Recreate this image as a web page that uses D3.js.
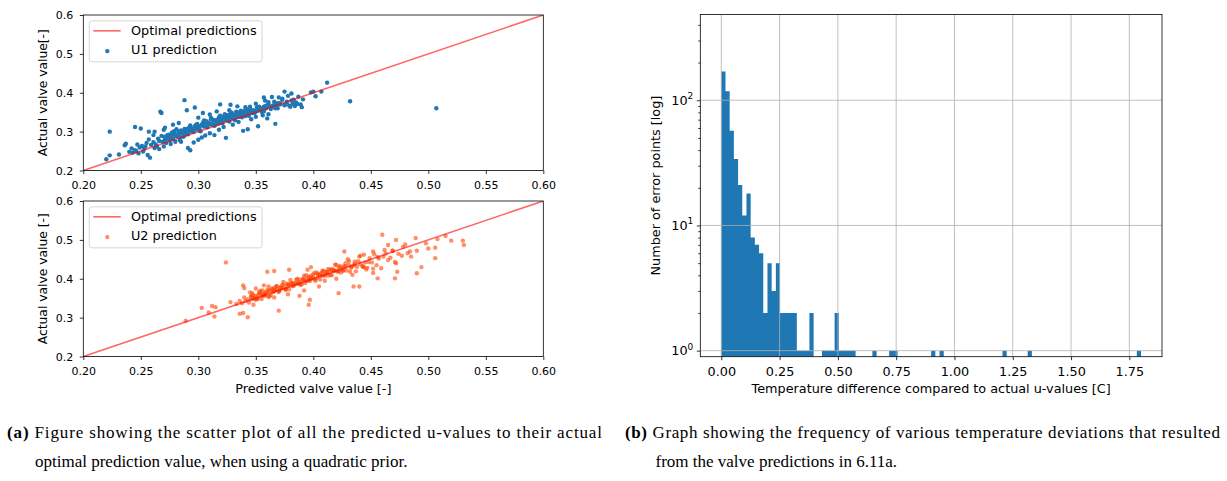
<!DOCTYPE html>
<html lang="en">
<head>
<meta charset="UTF-8">
<title>Valve predictions</title>
<style>
  body { margin: 0; background: #fff; }
  svg { display: block; }
  text { font-family: "DejaVu Sans", sans-serif; fill: #000; }
  .caption text { font-family: "Liberation Serif", "Times New Roman", serif; }
</style>
<script src="https://d3js.org/d3.v7.min.js"></script>
</head>
<body>
<script>
// ---- data ----
const xTicks = [0.20, 0.25, 0.30, 0.35, 0.40, 0.45, 0.50, 0.55, 0.60]
const yTicks = [0.2, 0.3, 0.4, 0.5, 0.6]
const optimalLine = [0.2, 0.6]

// U1: [predicted, actual]
const u1Points = [
  [.242,.257],[.245,.252],[.247,.267],[.249,.259],[.251,.263],[.253,.256],[.255,.271],[.257,.280],[.259,.266],[.261,.273],
  [.263,.267],[.265,.282],[.266,.276],[.268,.289],[.269,.274],[.271,.284],[.272,.271],[.273,.288],[.274,.292],[.275,.283],
  [.276,.287],[.277,.297],[.278,.281],[.279,.293],[.280,.290],[.281,.306],[.282,.288],[.283,.300],[.284,.285],[.285,.298],
  [.286,.300],[.287,.293],[.288,.307],[.289,.298],[.290,.301],[.291,.293],[.292,.308],[.293,.316],[.294,.301],[.295,.307],
  [.296,.300],[.297,.314],[.298,.308],[.299,.320],[.300,.305],[.301,.314],[.302,.301],[.303,.318],[.304,.322],[.305,.313],
  [.306,.317],[.307,.327],[.308,.311],[.309,.323],[.310,.320],[.311,.336],[.312,.318],[.313,.330],[.314,.315],[.315,.328],
  [.316,.330],[.317,.323],[.318,.337],[.319,.327],[.320,.330],[.321,.322],[.322,.337],[.323,.345],[.324,.330],[.325,.336],
  [.326,.329],[.327,.343],[.328,.337],[.329,.349],[.330,.334],[.331,.343],[.332,.329],[.333,.346],[.334,.350],[.335,.341],
  [.336,.345],[.337,.354],[.338,.338],[.339,.350],[.340,.347],[.341,.363],[.342,.344],[.343,.356],[.344,.341],[.345,.354],
  [.347,.355],[.349,.348],[.351,.363],[.353,.357],[.355,.359],[.357,.352],[.359,.367],[.361,.376],[.363,.361],[.365,.367],
  [.367,.360],[.369,.373],[.371,.370],[.373,.382],[.375,.369],[.377,.377],[.379,.367],[.381,.380],[.383,.382],[.385,.375],
  [.387,.390],
  [.271,.279],[.273,.290],[.275,.278],[.277,.290],[.279,.301],[.281,.288],[.283,.294],[.285,.303],[.287,.287],[.289,.304],
  [.291,.300],[.293,.313],[.295,.300],[.297,.309],[.299,.315],[.301,.303],[.303,.317],[.305,.329],[.307,.313],[.309,.320],
  [.311,.319],[.313,.330],[.315,.318],[.317,.330],[.319,.341],[.321,.327],[.323,.333],[.325,.342],[.327,.326],[.329,.343],
  [.331,.339],[.333,.351],[.335,.338],[.337,.346],[.339,.352],[.341,.340],[.343,.353],[.345,.364],[.347,.348],[.349,.354],
  [.351,.353],[.353,.363],[.355,.351],[.357,.364],[.359,.360],[.361,.372],[.363,.358],[.365,.367],[.367,.372],[.369,.360],
  [.371,.373],[.373,.385],[.375,.368],[.377,.375],
  [.271,.287],[.273,.282],[.276,.280],[.278,.298],[.281,.293],[.283,.290],[.286,.300],[.288,.290],[.291,.308],[.293,.304],
  [.296,.304],[.298,.317],[.301,.306],[.303,.316],[.306,.321],[.308,.318],[.311,.332],[.313,.319],[.316,.328],[.318,.321],
  [.321,.336],[.323,.331],[.326,.331],[.328,.346],[.331,.335],[.333,.338],[.336,.348],[.338,.337],[.341,.355],[.343,.350],
  [.346,.349],[.348,.354],[.351,.353],[.353,.364],[.356,.354],[.358,.364],[.361,.367],[.363,.364],[.366,.377],[.368,.364],
  [.240,.248],[.243,.246],[.246,.250],[.252,.249],[.254,.262],[.248,.244],[.262,.258],[.264,.262],[.266,.255],[.270,.262],
  [.276,.268],[.280,.274],[.284,.278],[.296,.272],[.300,.279],[.303,.285],[.306,.290],[.310,.296],[.318,.305],[.322,.312],
  [.330,.318],[.335,.325],[.346,.332],[.350,.338],[.356,.342],[.262,.300],[.270,.305],[.278,.318],[.283,.322],[.300,.336],
  [.310,.344],[.316,.352],[.334,.365],[.350,.372],[.358,.380],[.370,.388],[.378,.392],[.382,.372],[.384,.366],[.386,.371],
  [.380,.364],
  [.223,.300],[.220,.229],[.223,.239],[.231,.241],[.236,.265],[.237,.269],[.245,.312],[.250,.308],[.257,.300],[.261,.291],
  [.256,.240],[.258,.233],[.267,.351],[.268,.348],[.271,.310],[.288,.381],[.290,.355],[.297,.362],[.304,.348],[.291,.258],
  [.293,.252],[.285,.274],[.324,.284],[.314,.291],[.319,.370],[.328,.369],[.327,.355],[.339,.302],[.343,.306],[.352,.314],
  [.360,.334],[.361,.345],[.367,.320],[.364,.389],[.357,.388],[.375,.403],[.381,.398],[.389,.370],[.390,.363],[.391,.383],
  [.398,.401],[.400,.403],[.402,.391],[.407,.403],[.412,.426],[.432,.378],[.507,.360]
]

// U2: [predicted, actual]
const u2Points = [
  [.336,.343],[.338,.337],[.340,.352],[.341,.343],[.343,.347],[.344,.339],[.346,.355],[.347,.363],[.349,.349],[.350,.355],
  [.352,.349],[.353,.363],[.355,.358],[.356,.370],[.358,.356],[.359,.365],[.361,.353],[.362,.370],[.364,.375],[.365,.366],
  [.367,.371],[.368,.381],[.370,.366],[.371,.378],[.373,.376],[.374,.392],[.376,.375],[.377,.387],[.379,.373],[.380,.386],
  [.382,.389],[.383,.382],[.385,.397],[.386,.388],[.388,.392],[.389,.384],[.391,.400],[.392,.408],[.394,.394],[.395,.400],
  [.397,.394],[.398,.408],[.400,.403],[.401,.415],[.403,.401],[.404,.410],[.406,.398],[.407,.415],[.409,.420],[.410,.411],
  [.412,.415],[.413,.425],[.415,.410],[.416,.422],[.418,.420],[.419,.436],[.421,.418],[.422,.430],[.424,.416],[.425,.429],
  [.427,.433],[.429,.421],[.431,.445],[.433,.428],[.435,.434],[.437,.419],[.439,.445],[.441,.459],[.443,.432],[.445,.442],
  [.447,.428],[.449,.453],[.451,.442],[.453,.463],[.455,.435],[.457,.452],[.459,.427],[.461,.457],[.463,.465],[.465,.448],
  [.467,.454],[.469,.472],[.471,.443],[.474,.464],[.477,.459],[.480,.488],
  [.346,.347],[.348,.358],[.350,.346],[.352,.358],[.354,.369],[.356,.356],[.358,.362],[.360,.371],[.362,.355],[.364,.372],
  [.366,.368],[.368,.381],[.370,.368],[.372,.377],[.374,.383],[.376,.371],[.378,.385],[.380,.397],[.382,.381],[.384,.388],
  [.386,.387],[.388,.398],[.390,.386],[.392,.398],[.394,.409],[.396,.396],[.398,.402],[.400,.411],[.402,.395],[.404,.412],
  [.406,.408],[.408,.421],[.410,.408],[.412,.416],[.414,.422],[.416,.409],[.418,.423],[.420,.436],[.422,.419],[.424,.426],
  [.426,.421],[.428,.440],[.432,.418],[.436,.438],[.440,.457],[.444,.430],[.448,.443],[.452,.426],[.456,.456],
  [.346,.355],[.348,.350],[.351,.348],[.353,.366],[.356,.361],[.358,.358],[.361,.368],[.363,.358],[.366,.376],[.368,.372],
  [.371,.372],[.373,.385],[.376,.374],[.378,.384],[.381,.389],[.383,.386],[.386,.400],[.388,.387],[.391,.396],[.393,.389],
  [.396,.405],[.398,.400],[.401,.398],[.403,.416],[.406,.411],[.408,.408],[.411,.418],[.413,.408],[.416,.425],[.418,.421],
  [.421,.421],[.423,.433],[.426,.421],[.428,.431],[.431,.435],[.433,.431],[.436,.444],[.438,.431],[.441,.438],[.443,.431],
  [.289,.292],[.303,.325],[.309,.313],[.312,.330],[.315,.327],[.314,.303],[.324,.442],[.328,.340],[.333,.335],[.339,.383],
  [.340,.376],[.343,.301],[.336,.310],[.339,.312],[.348,.333],[.355,.348],[.361,.380],[.360,.418],[.366,.420],[.370,.318],
  [.379,.423],[.388,.356],[.396,.333],[.397,.346],[.395,.423],[.422,.363],[.427,.470],[.435,.380],[.440,.380],[.446,.424],
  [.456,.401],[.460,.513],[.469,.472],[.471,.401],[.472,.440],[.473,.418],[.482,.466],[.485,.457],[.489,.505],[.490,.414],
  [.490,.472],[.494,.430],[.498,.491],[.500,.478],[.506,.480],[.506,.453],[.508,.502],[.515,.510],[.520,.498],[.530,.498],
  [.531,.487],[.462,.474],[.465,.487],[.472,.500],[.478,.482],[.484,.470],[.452,.470],[.444,.462],[.430,.450],[.405,.380],
  [.392,.370],[.378,.360],[.366,.352],[.398,.430],[.410,.395],[.420,.400],[.434,.410],[.452,.415],[.350,.375],[.357,.383],
  [.345,.365]
]

// histogram: 100 bins of 0.018 C from 0 to 1.8
const binStart = 0, binWidth = 0.018
const histCounts = [
  170,118,57,34,21,12,18,8,7,6, 2,5,3,5,2,2,2,2,1,1, 1,2,0,0,1,1,1,2,1,1, 1,1,0,0,0,0,1,0,0,0,
  1,1,0,0,0,0,0,0,0,0, 1,0,1,0,0,0,0,0,0,0, 0,0,0,0,0,0,0,1,0,0, 0,0,0,1,0,0,0,0,0,0,
  0,0,0,0,0,0,0,0,0,0, 0,0,0,0,0,0,0,0,0,1
]
const histXTicks = [0, 0.25, 0.5, 0.75, 1.0, 1.25, 1.5, 1.75]
const histYMajor = [1, 10, 100]
const histYMinor = [2,3,4,5,6,7,8,9,20,30,40,50,60,70,80,90,200,300,400]

const captionA = ['Figure showing the scatter plot of all the predicted u-values to their actual',
                  'optimal prediction value, when using a quadratic prior.']
const captionB = ['Graph showing the frequency of various temperature deviations that resulted',
                  'from the valve predictions in 6.11a.']

// ---- drawing ----
const svg = d3.select('body').append('svg')
  .attr('width', 1227).attr('height', 481)
svg.append('rect').attr('width', 1227).attr('height', 481).attr('fill', '#fff')

const left = 83.3, right = 543.3
const xScale = d3.scaleLinear().domain([0.2, 0.6]).range([left, right])

function styleAxis(g, fs) {
  g.select('.domain').remove()
  g.selectAll('.tick line').attr('stroke', '#000').attr('stroke-width', 0.8)
  g.selectAll('.tick text').attr('font-size', fs).attr('font-family', 'DejaVu Sans')
}

function scatterPanel(top, bottom, points, color, opacity, pointLabel, yLabel, id) {
  const yScale = d3.scaleLinear().domain([0.2, 0.6]).range([bottom, top])
  const g = svg.append('g')
  g.append('clipPath').attr('id', id).append('rect')
    .attr('x', left).attr('y', top).attr('width', right - left).attr('height', bottom - top)

  const plot = g.append('g').attr('clip-path', `url(#${id})`)
  plot.selectAll('circle').data(points).join('circle')
    .attr('cx', d => xScale(d[0])).attr('cy', d => yScale(d[1]))
    .attr('r', 2.2).attr('fill', color).attr('fill-opacity', opacity)
  plot.append('line')
    .attr('x1', xScale(optimalLine[0])).attr('y1', yScale(optimalLine[0]))
    .attr('x2', xScale(optimalLine[1])).attr('y2', yScale(optimalLine[1]))
    .attr('stroke', 'red').attr('stroke-opacity', 0.6).attr('stroke-width', 1.6)

  g.append('g').attr('transform', `translate(0,${bottom})`)
    .call(d3.axisBottom(xScale).tickValues(xTicks).tickFormat(d3.format('.2f'))
      .tickSize(3.5).tickPadding(7.2))
    .call(a => styleAxis(a, 11))
  g.append('g').attr('transform', `translate(${left},0)`)
    .call(d3.axisLeft(yScale).tickValues(yTicks).tickFormat(d3.format('.1f'))
      .tickSize(3.5).tickPadding(6.5))
    .call(a => styleAxis(a, 11))

  g.append('rect').attr('x', left).attr('y', top)
    .attr('width', right - left).attr('height', bottom - top)
    .attr('fill', 'none').attr('stroke', '#000').attr('stroke-width', 0.8)

  g.append('text').attr('transform', `translate(46.8,${(top + bottom) / 2}) rotate(-90)`)
    .attr('text-anchor', 'middle').attr('font-size', 12.3).text(yLabel)

  // legend
  const lg = g.append('g').attr('transform', `translate(89.3,${top + 5.8})`)
  lg.append('rect').attr('width', 172.7).attr('height', 41).attr('rx', 2.5)
    .attr('fill', '#fff').attr('fill-opacity', 0.8).attr('stroke', '#cccccc').attr('stroke-width', 0.8)
  lg.append('line').attr('x1', 4).attr('x2', 31.4).attr('y1', 10).attr('y2', 10)
    .attr('stroke', 'red').attr('stroke-opacity', 0.6).attr('stroke-width', 1.6)
  lg.append('text').attr('x', 41.7).attr('y', 14.4).attr('font-size', 12.8).text('Optimal predictions')
  lg.append('circle').attr('cx', 18).attr('cy', 30.3).attr('r', 2.2)
    .attr('fill', color).attr('fill-opacity', opacity)
  lg.append('text').attr('x', 41.7).attr('y', 33.7).attr('font-size', 12.8).text(pointLabel)
  return yScale
}

scatterPanel(15, 170.5, u1Points, '#1f77b4', 1, 'U1 prediction', 'Actual valve value[-]', 'clipTop')
scatterPanel(201, 356.5, u2Points, 'orangered', 0.6, 'U2 prediction', 'Actual valve value [-]', 'clipBot')

svg.append('text').attr('x', (left + right) / 2).attr('y', 393)
  .attr('text-anchor', 'middle').attr('font-size', 12.8).text('Predicted valve value [-]')

// ---- histogram ----
const hL = 700.3, hR = 1162, hT = 14.5, hB = 356.7
const xh = d3.scaleLinear().domain([-0.09, 1.89]).range([hL, hR])
const yh = d3.scaleLog().domain([0.895, 484]).range([hB, hT])
const hg = svg.append('g')
hg.append('clipPath').attr('id', 'clipHist').append('rect')
  .attr('x', hL).attr('y', hT).attr('width', hR - hL).attr('height', hB - hT)
const hp = hg.append('g').attr('clip-path', 'url(#clipHist)')

const bins = histCounts.map((c, i) => ({ x0: binStart + i * binWidth, x1: binStart + (i + 1) * binWidth, c }))
  .filter(b => b.c > 0)
// all bars in one path so neighbouring bins don't show seams
const barPath = d3.path()
bins.forEach(b => barPath.rect(xh(b.x0), yh(b.c), xh(b.x1) - xh(b.x0), hB - yh(b.c)))
hp.append('path').attr('d', barPath.toString()).attr('fill', '#1f77b4')

// grid above the bars
hp.selectAll('line.vgrid').data(histXTicks).join('line').attr('class', 'vgrid')
  .attr('x1', d => xh(d)).attr('x2', d => xh(d)).attr('y1', hT).attr('y2', hB)
  .attr('stroke', '#b0b0b0').attr('stroke-width', 0.8)
hp.selectAll('line.hgrid').data(histYMajor).join('line').attr('class', 'hgrid')
  .attr('y1', d => yh(d)).attr('y2', d => yh(d)).attr('x1', hL).attr('x2', hR)
  .attr('stroke', '#b0b0b0').attr('stroke-width', 0.8)

hg.append('g').attr('transform', `translate(0,${hB})`)
  .call(d3.axisBottom(xh).tickValues(histXTicks).tickFormat(d3.format('.2f'))
    .tickSize(3.5).tickPadding(6.8))
  .call(a => styleAxis(a, 12.8))
const yAx = hg.append('g').attr('transform', `translate(${hL},0)`)
  .call(d3.axisLeft(yh).tickValues(histYMajor).tickFormat(() => '').tickSize(3.5))
  .call(a => styleAxis(a, 12.8))
yAx.selectAll('.tick text').each(function (d) {
  const t = d3.select(this).text(null).attr('x', -7).attr('dy', '0.3em').attr('text-anchor', 'end')
  t.append('tspan').text('10')
  t.append('tspan').attr('font-size', 9).attr('dy', -5.5).text(Math.round(Math.log10(d)))
})
hg.append('g').attr('transform', `translate(${hL},0)`)
  .call(d3.axisLeft(yh).tickValues(histYMinor).tickFormat(() => '').tickSize(2))
  .call(a => styleAxis(a, 12.8))

hg.append('rect').attr('x', hL).attr('y', hT).attr('width', hR - hL).attr('height', hB - hT)
  .attr('fill', 'none').attr('stroke', '#000').attr('stroke-width', 0.8)

hg.append('text').attr('x', (hL + hR) / 2).attr('y', 393)
  .attr('text-anchor', 'middle').attr('font-size', 12.8)
  .text('Temperature difference compared to actual u-values [C]')
hg.append('text').attr('transform', `translate(659.5,${(hT + hB) / 2}) rotate(-90)`)
  .attr('text-anchor', 'middle').attr('font-size', 12.8).text('Number of error points [log]')

// ---- captions ----
function caption(x0, x1, x2, tag, lines) {
  const c = svg.append('g').attr('class', 'caption')
  const t = c.append('text').attr('x', x0).attr('y', 437.5).attr('font-size', 17)
    .attr('textLength', x1 - x0).attr('lengthAdjust', 'spacing')
  t.append('tspan').attr('font-weight', 'bold').text(tag + ' ')
  t.append('tspan').text(lines[0])
  c.append('text').attr('x', x2).attr('y', 466.5).attr('font-size', 17).text(lines[1])
}
caption(7, 602, 35, '(a)', captionA)
caption(625, 1220, 655.5, '(b)', captionB)
</script>
</body>
</html>
